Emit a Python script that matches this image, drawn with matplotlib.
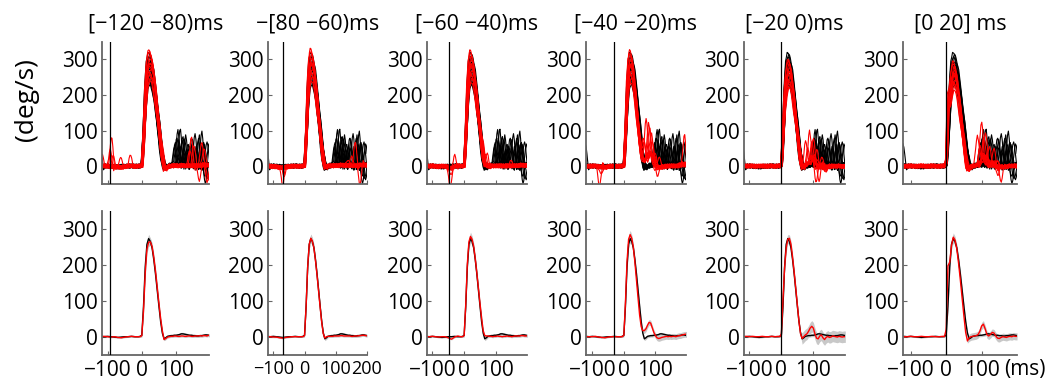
import numpy as np
import matplotlib
matplotlib.use("Agg")
import matplotlib.pyplot as plt

plt.rcParams['font.family'] = ['Open Sans', 'DejaVu Sans']

# ---------------- data ----------------
TITLES = ["[\u2212120 \u221280)ms", "\u2212[80 \u221260)ms", "[\u221260 \u221240)ms",
          "[\u221240 \u221220)ms", "[\u221220 0)ms", "[0 20] ms"]
VLINES = [-92, -69, -48, -30, -1, 0]
XLIMS = [(-117, 197), (-118, 201), (-118, 199), (-120, 197), (-116, 199), (-121, 199)]
XTICKS = [[-100, 0, 100], [-100, 0, 100, 200], [-100, 0, 100],
          [-100, 0, 100], [-100, 0, 100], [-100, 0, 100]]
YTICKS = [0, 100, 200, 300]

# time grid of the average traces (ms)
TB = [-120, -110, -100, -90, -80, -70, -60, -50, -40, -30, -20, -10,
      -5, 0, 5, 10, 15, 20, 25, 30, 35, 40, 45, 50, 55, 60, 65, 70, 75, 80,
      85, 90, 95, 100, 105, 110, 115, 120, 125, 130, 135, 140, 145, 150,
      155, 160, 165, 170, 175, 180, 185, 190, 195, 200]

BLACK_MEAN = [1, 0, 1, 0, -1, -2, -1, 0, 0, 1, 0, 0,
              1, 4, 85, 195, 258, 274, 266, 248, 215, 175, 130, 85, 42, 10, -6, -3, 1, 2,
              3, 3, 4, 4, 5, 6, 8, 8, 7, 6, 5, 4, 4, 3, 3, 2, 2, 3, 3, 4, 5, 5, 4, 3]
RED_1 = [0, 1, 0, -1, 0, -2, -3, -1, 0, 1, 0, 0,
         0, 3, 72, 178, 245, 264, 265, 252, 222, 183, 138, 93, 50, 16, -8, -5, -1, 0,
         1, 1, 2, 2, 1, 1, 2, 2, 1, 1, 2, 2, 1, 1, 2, 2, 2, 3, 2, 3, 3, 2, 4, 3]
RED_2 = [0, 0, -1, -1, -3, -4, -2, -1, 0, 0, 0, 0,
         0, 3, 85, 195, 258, 275, 267, 248, 213, 172, 127, 82, 40, 9, -4, 0, 1, 1,
         1, 1, 2, 2, 2, 2, 3, 3, 2, 2, 2, 2, 2, 1, 1, 2, 2, 2, 3, 3, 4, 4, 3, 3]
RED_3 = [0, 0, 1, 0, -1, 0, 0, -3, -7, -1, 2, 0,
         0, 3, 90, 203, 265, 280, 272, 252, 218, 178, 135, 92, 52, 16, 3, 2, 2, 1,
         1, 0, 1, 1, 2, 1, 1, 0, 1, 1, 2, 1, 1, 0, 1, 2, 2, 2, 2, 3, 3, 2, 2, 3]
RED_4 = [0, 0, 0, 1, -1, -2, -3, -1, 0, 0, 0, 0,
         0, 4, 95, 210, 272, 285, 275, 250, 208, 158, 108, 60, 28, 17, 17, 22, 32, 40,
         38, 25, 12, 3, -3, -5, -4, -2, -1, 0, 1, 0, 1, 0, 1, 1, 0, 2, 3, 3, 5, 6, 7, 6]
RED_5 = [0, 1, 0, 1, 0, 0, 1, 0, 0, 1, 0, 1,
         0, 8, 105, 192, 248, 272, 275, 258, 222, 180, 135, 88, 42, 8, -5, 0, 5, 8,
         15, 24, 29, 24, 8, -4, -6, 2, 5, -3, -8, -2, 1, -2, -1, 2, 1, 0, -1, 1, 0, -1, 0, 0]
RED_6 = [0, 0, 1, 0, 0, 1, 0, 0, 1, 0, 0, 1,
         0, 20, 198, 208, 255, 278, 270, 245, 205, 158, 108, 58, 12, -12, -3, 0, 1, 2,
         3, 6, 15, 30, 35, 22, 6, 2, 6, 12, 10, 2, -4, -5, -2, 0, -1, -2, 0, 1, 0, 2, 1, 1]
RED_MEANS = [RED_1, RED_2, RED_3, RED_4, RED_5, RED_6]

# standard error of the averages
SE = [2, 2, 2, 2, 2, 2, 2, 2, 2, 2, 2, 2,
      2, 4, 10, 12, 12, 12, 10, 10, 10, 10, 10, 8, 8, 6, 5, 5, 4, 4,
      4, 4, 4, 4, 4, 4, 4, 4, 4, 4, 4, 4, 4, 4, 4, 4, 4, 4, 4, 4, 4, 4, 4, 4]
RED_SE_LATE = [3, 3, 3, 8, 16, 10]

# single trials: peak velocity, onset shift (ms), duration stretch
BLK_PEAK = [322, 315, 308, 300, 295, 288, 282, 276, 270, 262, 255, 248, 240, 232]
BLK_SHIFT = [-1, 2, 0, 3, -2, 1, 4, -1, 2, 0, 3, 1, -2, 2]
BLK_STRETCH = [0.95, 1.0, 0.97, 1.05, 1.0, 1.08, 0.98, 1.03, 1.1, 1.0, 1.06, 0.96, 1.04, 1.1]
RED_MAX = [325, 330, 325, 325, 300, 295]
RED_PEAK_FRAC = [1.0, 0.98, 0.95, 0.93, 0.9, 0.88, 0.86, 0.84, 0.81, 0.79, 0.76, 0.73]
RED_SHIFT = [0, -2, 1, 3, -1, 2, 0, 4, -2, 1, 3, 0]
RED_STRETCH = [0.95, 1.0, 1.03, 0.98, 1.05, 1.0, 1.08, 0.97, 1.02, 1.1, 1.04, 1.0]

# extra oscillations of single trials: (trial, time ms, height deg/s)
BLACK_EVENTS = [(0, 105, 95), (0, 135, 60), (0, 168, 80), (0, 192, -45),
                (1, 112, 100), (1, 148, 70), (1, 183, 60),
                (2, 98, 60), (2, 128, 85), (2, 160, 55), (2, 190, 70), (2, -122, 65),
                (3, 120, 80), (3, 155, 90), (3, 186, -50),
                (4, 108, 70), (4, 140, 50), (4, 175, 95),
                (5, 95, 50), (5, 125, 65), (5, 165, 75), (5, 195, -40),
                (6, 115, 55), (6, 145, 80), (6, 180, 70),
                (7, 102, 85), (7, 138, 45), (7, 172, 60),
                (8, 130, 40), (8, 180, 65), (9, 118, 60), (9, 160, 45), (9, 196, 60),
                (10, 150, 55), (11, 110, 35), (11, 185, -35), (12, 170, 40), (13, 125, 30)]
RED_EVENTS_1 = [(0, -88, 85), (1, -92, 45), (2, -84, 30), (3, -60, 28), (4, -34, 30),
                (5, -115, 35), (0, 145, 80), (1, 152, 60), (2, 175, 70), (3, 190, -50),
                (4, 168, -40), (5, 182, 55), (6, 140, 45), (7, 196, -45)]
RED_EVENTS_2 = [(0, -70, -55), (1, -66, -25), (2, 162, 75), (3, 178, -55),
                (4, 150, 30), (5, 140, 20)]
RED_EVENTS_3 = [(0, -44, -60), (1, -30, 30), (2, -40, -20), (3, 62, 40), (4, 72, 35),
                (5, 68, 25), (6, 150, 15)]
RED_EVENTS_4 = [(0, -77, -60), (1, -72, -25), (0, 70, 110), (1, 62, 70), (2, 78, 95),
                (3, 88, 60), (4, 96, -35), (5, 92, 45), (6, 105, -40), (7, 82, 80),
                (8, 100, 40), (2, 192, 85), (9, 66, 50), (10, 112, 30)]
RED_EVENTS_5 = [(0, 75, 65), (1, 88, 75), (2, 100, 55), (3, 107, -50), (4, 95, 40),
                (5, 118, -35), (6, 82, 45), (7, 128, 30), (8, 112, 50), (9, 140, -20)]
RED_EVENTS_6 = [(0, 88, 80), (1, 100, 95), (2, 112, 70), (3, 122, 50), (4, 95, 45),
                (5, 155, -40), (6, 106, 60), (7, 135, 40), (8, 145, -25), (9, 118, -30)]
RED_EVENTS = [RED_EVENTS_1, RED_EVENTS_2, RED_EVENTS_3, RED_EVENTS_4, RED_EVENTS_5, RED_EVENTS_6]

# shape of one oscillation and baseline jitter
BUMP_T = [-10, -6, -3, 0, 3, 6, 10, 14]
BUMP_V = [0, 0.35, 0.8, 1.0, 0.75, 0.3, -0.15, 0]
NOISE = [3, 5, 2, -1, -4, -6, -2, 1, 4, 6, 3, -1, -4, -5, -3, 1, 4, 2, -1, -4, -2, 1, 4, 1, -2]

# ---------------- layout ----------------
W, H = 1047, 381
LEFTS = [101.7, 267.7, 426.7, 586, 744.3, 903.3]
RIGHTS = [209.3, 367.3, 527.3, 686, 845, 1016.7]
TOP_ROW = (41.7, 184.0)
BOT_ROW = (211.4, 354.6)
FS = 15
XFS = [15, 13, 15, 15, 15, 15]
SPINE = '#666666'

fig = plt.figure(figsize=(W / 100, H / 100), dpi=100)

T_TOP = np.arange(-122, 202.5, 2.5)
tb = np.array(TB, float)


def trial(base, peak, shift, stretch, events, idx, noff):
    base = np.array(base, float)
    v = np.interp((T_TOP - shift) / stretch, tb, base) * peak / base.max()
    for (tk, tt, hh) in events:
        if tk == idx:
            v = v + hh * np.interp(T_TOP - tt, BUMP_T, BUMP_V, left=0, right=0)
    n = np.array(NOISE, float)
    v = v + n[(np.arange(len(T_TOP)) + noff) % len(n)]
    return v


def minus(v):
    return ('\u2212%d' % -v) if v < 0 else str(v)


def style(ax, p, labels):
    ax.set_xticks(XTICKS[p])
    ax.set_yticks(YTICKS)
    ax.set_xlim(*XLIMS[p])
    ax.set_ylim(-50, 350)
    ax.spines['top'].set_visible(False)
    ax.spines['right'].set_visible(False)
    for s in ('left', 'bottom'):
        ax.spines[s].set_color(SPINE)
        ax.spines[s].set_linewidth(1.3)
    ax.tick_params(direction='in', length=3, width=0.8, color=SPINE,
                   labelsize=FS, pad=3)
    ax.tick_params(axis='x', pad=4, labelsize=XFS[p])
    if labels:
        ax.set_xticklabels([minus(v) for v in XTICKS[p]])
    else:
        ax.set_xticklabels([])
    ax.set_yticklabels([str(v) for v in YTICKS])
    ax.axvline(VLINES[p], color='black', lw=0.9, zorder=5)


for p in range(6):
    # ---- top row: single trials ----
    y0, y1 = TOP_ROW
    ax = fig.add_axes([LEFTS[p] / W, 1 - y1 / H, (RIGHTS[p] - LEFTS[p]) / W, (y1 - y0) / H])
    for k in range(len(BLK_PEAK)):
        ax.plot(T_TOP, trial(BLACK_MEAN, BLK_PEAK[k], BLK_SHIFT[k], BLK_STRETCH[k],
                             BLACK_EVENTS, k, 7 * k), color='black', lw=0.8)
    for k in range(len(RED_PEAK_FRAC)):
        ax.plot(T_TOP, trial(RED_MEANS[p], RED_MAX[p] * RED_PEAK_FRAC[k], RED_SHIFT[k],
                             RED_STRETCH[k], RED_EVENTS[p], k, 11 * k + 3),
                color='#ff0000', lw=0.8)
    style(ax, p, False)
    ax.set_title(TITLES[p], fontsize=15.5, pad=9)

    # ---- bottom row: averages ----
    y0, y1 = BOT_ROW
    ax = fig.add_axes([LEFTS[p] / W, 1 - y1 / H, (RIGHTS[p] - LEFTS[p]) / W, (y1 - y0) / H])
    se = np.array(SE, float)
    se_red = np.where(tb >= 65, RED_SE_LATE[p], se)
    bm = np.array(BLACK_MEAN, float)
    rm = np.array(RED_MEANS[p], float)
    ax.fill_between(tb, bm - se, bm + se, color='#c8c8c8', lw=0)
    ax.fill_between(tb, rm - se_red, rm + se_red, color='#c8c8c8', lw=0)
    ax.plot(tb, bm, color='black', lw=1.0)
    ax.plot(tb, rm, color='#ff0000', lw=1.0)
    style(ax, p, True)

fig.text(26 / W, 1 - 100 / H, '(deg/s)', rotation=90, fontsize=19,
         ha='center', va='center')
fig.text(1004 / W, 1 - 369 / H, '(ms)', fontsize=FS, ha='left', va='center')

fig.savefig('out.png', dpi=100)
